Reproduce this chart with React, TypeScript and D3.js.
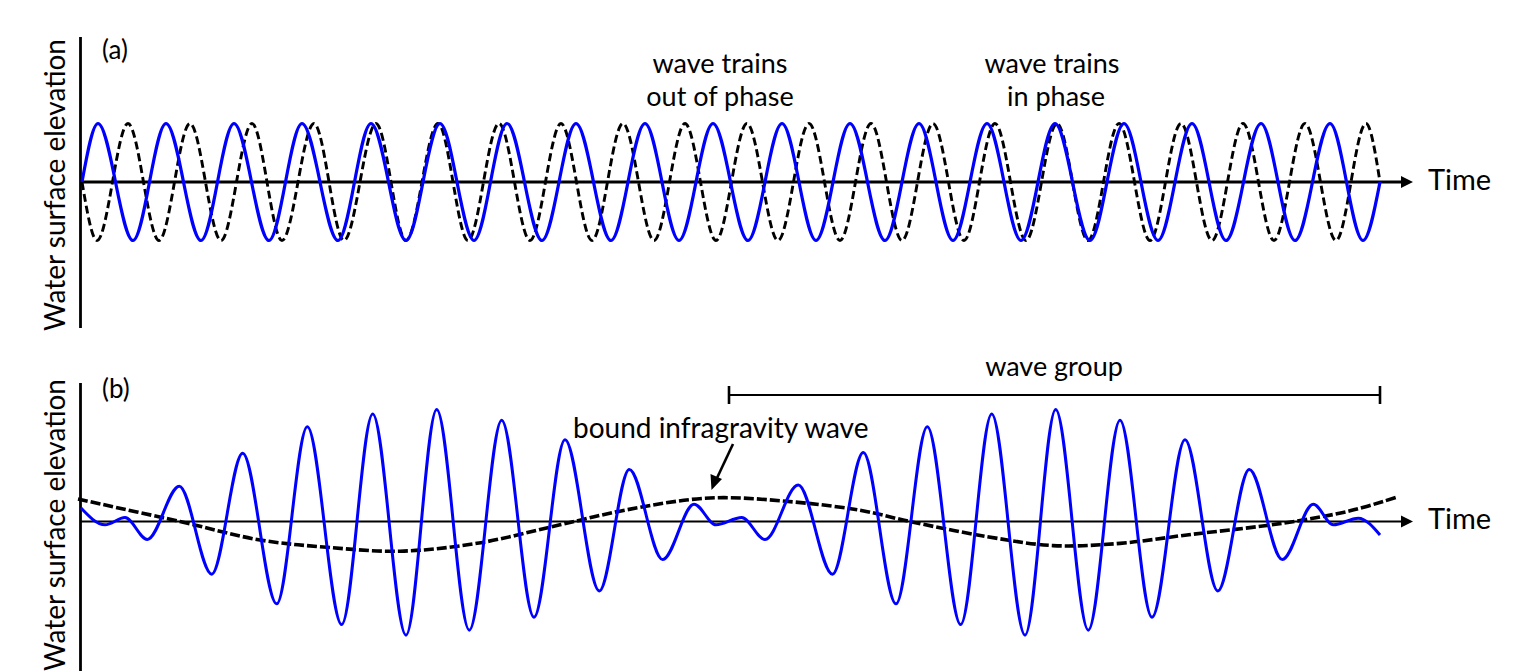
import React from 'react';
import * as d3 from 'd3';

const W = 1538;
const H = 671;
const FONT = "Lato, 'Open Sans', sans-serif";

// panel (a): time (s) of crests and troughs of the two wave trains, amplitude 1
const trainStart = 0;
const trainEnd = 129.8;
const blueCrestsA = [1.6, 8.4, 15.2, 22.0, 28.9, 35.8, 42.5, 49.4, 56.3, 63.1, 70.0, 76.8, 83.7, 90.5, 97.3, 104.2, 111.0, 117.9, 124.8];
const blueTroughsA = [5.1, 11.9, 18.7, 25.6, 32.4, 39.2, 46.0, 52.9, 59.7, 66.6, 73.4, 80.3, 87.1, 93.9, 100.8, 107.6, 114.4, 121.3, 128.1];
const dashCrestsA = [4.6, 10.8, 17.0, 23.2, 29.4, 35.6, 41.7, 47.9, 54.1, 60.3, 66.5, 72.7, 78.9, 85.1, 91.3, 97.5, 103.7, 109.9, 116.1, 122.3, 128.4];
const dashTroughsA = [1.5, 7.7, 13.9, 20.0, 26.2, 32.4, 38.6, 44.8, 51.0, 57.2, 63.4, 69.6, 75.8, 82.0, 88.2, 94.4, 100.6, 106.8, 113.0, 119.2, 125.4];

// panel (b): wave group extrema
const groupTimes = [-0.1, 2.3, 4.3, 6.53, 9.73, 12.97, 16.07, 19.47, 22.53, 25.97, 29.07, 32.4, 35.47, 38.73, 41.97, 45.2, 48.3, 51.73, 54.73, 58.07, 61.2, 63.4, 65.97, 68.3, 71.63, 75.05, 78.13, 81.4, 84.53, 87.87, 90.97, 94.3, 97.37, 100.63, 103.8, 107.0, 110.3, 113.58, 116.73, 120.03, 123.13, 125.13, 127.63, 129.8];
const groupElev = [0.24, -0.06, 0.07, -0.32, 0.63, -0.94, 1.22, -1.47, 1.69, -1.84, 1.92, -2.03, 2.0, -1.94, 1.81, -1.71, 1.46, -1.24, 0.93, -0.68, 0.31, -0.06, 0.07, -0.32, 0.65, -0.94, 1.23, -1.47, 1.69, -1.84, 1.92, -2.03, 2.0, -1.94, 1.81, -1.71, 1.46, -1.24, 0.93, -0.68, 0.31, -0.06, 0.06, -0.24];
// bound infragravity wave
const igTimes = [-0.4, 9.8, 17.8, 24.5, 31.8, 39.5, 47.8, 54.5, 62.8, 71.1, 77.8, 82.8, 90.5, 97.1, 103.8, 110.5, 120.1, 126.8, 131.4];
const igElev = [0.4, 0.0, -0.33, -0.46, -0.53, -0.39, -0.06, 0.21, 0.42, 0.35, 0.2, 0.0, -0.27, -0.43, -0.39, -0.24, -0.03, 0.19, 0.43];

type Pt = [number, number];

function trainPoints(crests: number[], troughs: number[]): Pt[] {
  const ext: Pt[] = [
    ...crests.map((t) => [t, 1] as Pt),
    ...troughs.map((t) => [t, -1] as Pt),
  ].sort((a, b) => a[0] - b[0]);
  return [[trainStart, 0], ...ext, [trainEnd, 0]];
}

const x = d3.scaleLinear().domain([0, 130]).range([82, 1382]);
const yA = d3.scaleLinear().domain([-1, 1]).range([240.5, 123.5]);
const yB = d3.scaleLinear().domain([-2, 2]).range([633.5, 409.5]);

const AXIS_X = 80.5;
const ARROW_END = 1413;

function Axes({ y0, top, bottom, width }: { y0: number; top: number; bottom: number; width: number }) {
  return (
    <g>
      <line x1={AXIS_X} x2={AXIS_X} y1={top} y2={bottom} stroke="#000" strokeWidth={2.8} />
      <line x1={AXIS_X} x2={ARROW_END - 10} y1={y0} y2={y0} stroke="#000" strokeWidth={width} />
      <path d={`M${ARROW_END - 12},${y0 - 6} L${ARROW_END},${y0} L${ARROW_END - 12},${y0 + 6} Z`} fill="#000" />
      <text x={1428} y={y0 + 7.5} fontSize={29} fontFamily={FONT} fill="#000">Time</text>
    </g>
  );
}

export default function App() {
  const lineA = d3.line<Pt>().x((d) => x(d[0])).y((d) => yA(d[1])).curve(d3.curveMonotoneX);
  const lineB = d3.line<Pt>().x((d) => x(d[0])).y((d) => yB(d[1])).curve(d3.curveMonotoneX);
  const lineIG = d3.line<Pt>().x((d) => x(d[0])).y((d) => yB(d[1])).curve(d3.curveCatmullRom.alpha(0.5));

  const blue = trainPoints(blueCrestsA, blueTroughsA);
  const dashed = trainPoints(dashCrestsA, dashTroughsA);
  const group: Pt[] = groupTimes.map((t, i) => [t, groupElev[i]]);
  const ig: Pt[] = igTimes.map((t, i) => [t, igElev[i]]);

  const yLabel = (cy: number) => (
    <text
      transform={`translate(65,${cy}) rotate(-90)`}
      textAnchor="middle"
      fontSize={28}
      fontFamily={FONT}
      fill="#000"
    >
      Water surface elevation
    </text>
  );

  return (
    <svg width={W} height={H} style={{ position: 'absolute', left: 0, top: 0, background: '#fff' }}>
      {/* panel (a) */}
      <Axes y0={yA(0)} top={37} bottom={328} width={2.8} />
      {yLabel(185)}
      <text x={102} y={59} fontSize={26} fontFamily={FONT}>(a)</text>
      <path d={lineA(dashed) || ''} fill="none" stroke="#000" strokeWidth={2.9} strokeDasharray="8 4" />
      <path d={lineA(blue) || ''} fill="none" stroke="#0000ff" strokeWidth={3.2} />
      <g fontSize={27} fontFamily={FONT} textAnchor="middle">
        <text x={720} y={73}>wave trains</text>
        <text x={720} y={106}>out of phase</text>
        <text x={1052} y={73}>wave trains</text>
        <text x={1056} y={106}>in phase</text>
      </g>

      {/* panel (b) */}
      <Axes y0={yB(0)} top={383} bottom={H} width={2} />
      {yLabel(525)}
      <text x={102} y={398} fontSize={26} fontFamily={FONT}>(b)</text>
      <path d={lineIG(ig) || ''} fill="none" stroke="#000" strokeWidth={3.6} strokeDasharray="10 3" />
      <path d={lineB(group) || ''} fill="none" stroke="#0000ff" strokeWidth={3} />

      {/* wave group bracket */}
      <g stroke="#000" strokeWidth={2}>
        <line x1={x(64.7)} x2={x(129.8)} y1={395} y2={395} />
        <line x1={x(64.7)} x2={x(64.7)} y1={386} y2={404} strokeWidth={2.6} />
        <line x1={x(129.8)} x2={x(129.8)} y1={386} y2={404} strokeWidth={2.6} />
      </g>
      <text x={1054} y={376} fontSize={27} fontFamily={FONT} textAnchor="middle">wave group</text>

      {/* infragravity annotation */}
      <text x={573} y={438} fontSize={28} fontFamily={FONT}>bound infragravity wave</text>
      <line x1={733} y1={444} x2={717} y2={478} stroke="#000" strokeWidth={2.6} />
      <path d="M711.5,490 L710.5,474 L722,479 Z" fill="#000" />
    </svg>
  );
}
